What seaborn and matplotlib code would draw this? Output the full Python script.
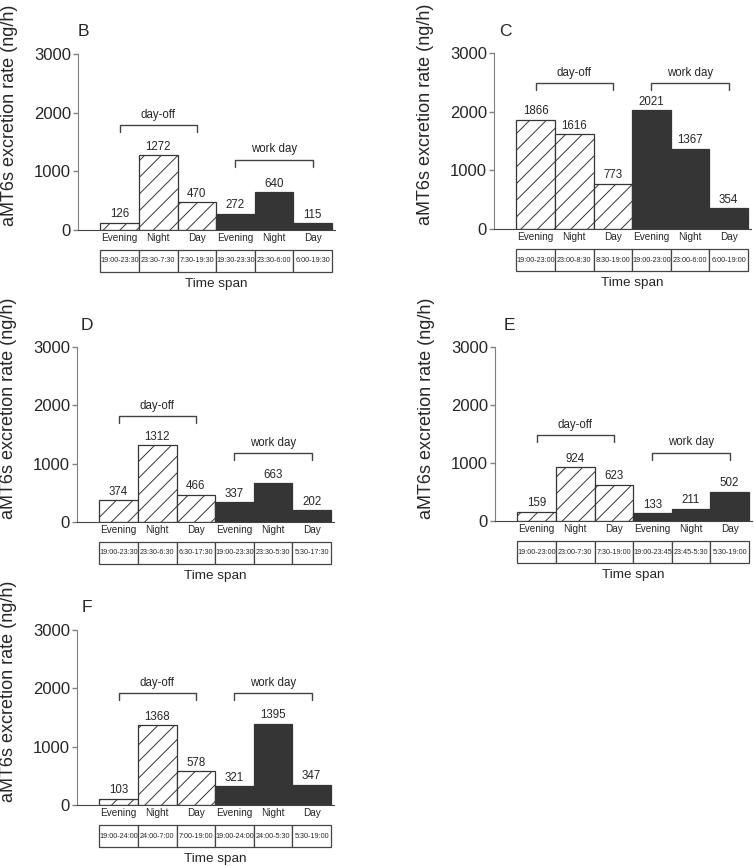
import matplotlib
matplotlib.use('Agg')
import matplotlib.pyplot as plt
import matplotlib.transforms as mtransforms
from matplotlib.patches import Rectangle
import seaborn as sns

sns.set_style('ticks')
plt.rcParams['font.family'] = ['Liberation Sans', 'DejaVu Sans']
plt.rcParams['hatch.linewidth'] = 0.7
plt.rcParams['hatch.color'] = '#333333'

# data
periods = ['Evening', 'Night', 'Day', 'Evening', 'Night', 'Day']
groups = ['day-off', 'work day']

vals_B = [126, 1272, 470, 272, 640, 115]
vals_C = [1866, 1616, 773, 2021, 1367, 354]
vals_D = [374, 1312, 466, 337, 663, 202]
vals_E = [159, 924, 623, 133, 211, 502]
vals_F = [103, 1368, 578, 321, 1395, 347]

spans_B = ['19:00-23:30', '23:30-7:30', '7:30-19:30', '19:30-23:30', '23:30-6:00', '6:00-19:30']
spans_C = ['19:00-23:00', '23:00-8:30', '8:30-19:00', '19:00-23:00', '23:00-6:00', '6:00-19:00']
spans_D = ['19:00-23:30', '23:30-6:30', '6:30-17:30', '19:00-23:30', '23:30-5:30', '5:30-17:30']
spans_E = ['19:00-23:00', '23:00-7:30', '7:30-19:00', '19:00-23:45', '23:45-5:30', '5:30-19:00']
spans_F = ['19:00-24:00', '24:00-7:00', '7:00-19:00', '19:00-24:00', '24:00-5:30', '5:30-19:00']

# bracket heights (day-off, work day)
brk_B = [1790, 1200]
brk_C = [2490, 2490]
brk_D = [1810, 1180]
brk_E = [1475, 1180]
brk_F = [1915, 1915]

W, H = 754, 866
fig = plt.figure(figsize=(W / 100, H / 100), dpi=100)

# letter, values, spans, brackets, spine x, y of 0, y of 3000, letter pos (pixels)
panels = [
    ('B', vals_B, spans_B, brk_B, 78, 230, 54, (83, 32)),
    ('C', vals_C, spans_C, brk_C, 494, 229, 53, (505, 32)),
    ('D', vals_D, spans_D, brk_D, 77, 522, 347, (87, 325)),
    ('E', vals_E, spans_E, brk_E, 495, 521, 347, (509, 325)),
    ('F', vals_F, spans_F, brk_F, 77, 805, 630, (87, 608)),
]

dark = '#353535'
x_lo, x_hi = -1.08, 5.58
ax_w = 257

for letter, vals, spans, brk, left, y0, ytop, lpos in panels:
    ax_h = y0 - ytop
    ax = fig.add_axes([left / W, (H - y0) / H, ax_w / W, ax_h / H])
    sns.barplot(x=list(range(6)), y=vals, width=1.0, color='white',
                edgecolor=dark, linewidth=0.9, ax=ax)
    for i, p in enumerate(ax.patches):
        if i < 3:
            p.set_facecolor('white')
            p.set_hatch('//')
        else:
            p.set_facecolor(dark)
    ax.set_xlim(x_lo, x_hi)
    ax.set_ylim(0, 3000)
    ax.set_yticks([0, 1000, 2000, 3000])
    ax.set_xticks(range(6))
    ax.set_xticklabels(periods, fontsize=7.2)
    ax.tick_params(axis='x', length=0, pad=2.5)
    ax.tick_params(axis='y', length=3.5, width=1, color='#808080', labelsize=12, pad=1.5)
    sns.despine(ax=ax)
    ax.spines['left'].set_color('#808080')
    ax.spines['bottom'].set_color('#444444')
    ax.set_ylabel('aMT6s excretion rate (ng/h)', fontsize=13)
    ax.yaxis.set_label_coords(-0.232, 0.65)
    ax.set_xlabel('')

    # value labels
    for i, v in enumerate(vals):
        ax.text(i, v + 45, str(v), ha='center', va='bottom', fontsize=8.3)

    # brackets
    for g, (a, b) in enumerate([(0, 2), (3, 5)]):
        h = brk[g]
        ax.plot([a, a, b, b], [h - 120, h, h, h - 120], color='#444444', lw=1)
        ax.text((a + b) / 2, h + 70, groups[g], ha='center', va='bottom', fontsize=8.3)

    # time span boxes below the axis
    tr = mtransforms.blended_transform_factory(ax.transData, ax.transAxes)
    b_top = -20 / ax_h
    b_bot = -42 / ax_h
    for i, s in enumerate(spans):
        ax.add_patch(Rectangle((i - 0.5, b_bot), 1, b_top - b_bot, transform=tr,
                               facecolor='white', edgecolor='#444444', lw=0.9,
                               clip_on=False))
        ax.text(i, (b_top + b_bot) / 2, s, transform=tr, ha='center', va='center',
                fontsize=5.2)
    ax.text(2.5, -54 / ax_h, 'Time span', transform=tr, ha='center', va='center',
            fontsize=9.7)

    fig.text(lpos[0] / W, 1 - lpos[1] / H, letter, ha='center', va='center', fontsize=12.5)

fig.savefig('out.png', dpi=100)
